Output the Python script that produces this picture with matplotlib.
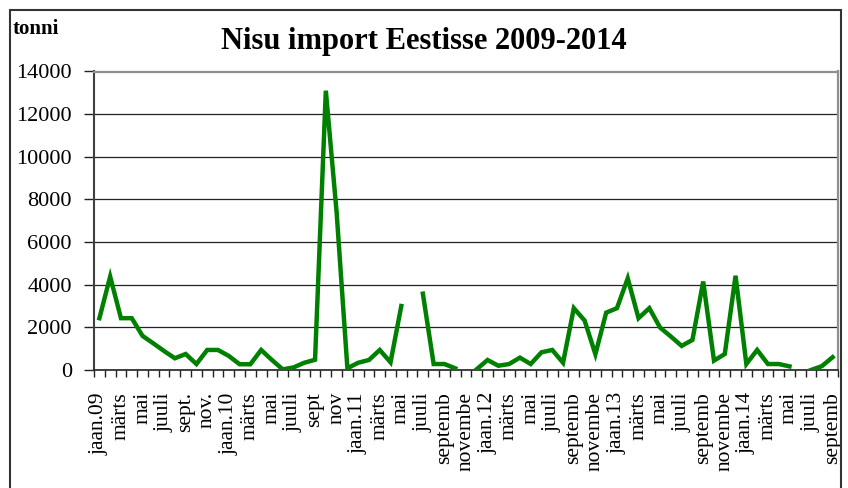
import numpy as np
import matplotlib
matplotlib.use("Agg")
import matplotlib.pyplot as plt
from matplotlib.patches import Rectangle

plt.rcParams["font.family"] = ["Liberation Serif", "DejaVu Serif"]

nan = np.nan
# monthly wheat import, tonnes, Jan 2009 .. Sep 2014 (gaps = no data)
import_t = [2430, 4380, 2430, 2430, 1600, 1250, 890, 550, 750, 280,
            940, 940, 660, 270, 270, 940, 470, 30, 120, 340,
            480, 13100, 7400, 80, 340, 470, 940, 360, 3000, nan,
            3580, 280, 280, 80, nan, 40, 470, 200, 280, 580,
            280, 830, 940, 340, 2900, 2320, 740, 2690, 2900, 4300,
            2430, 2900, 1990, 1570, 1130, 1410, 4150, 440, 750, 4420,
            280, 940, 280, 280, 170, nan, 0, 180, 600]

month_labels = ["jaan.09", "märts", "mai", "juuli", "sept.", "nov.",
                "jaan.10", "märts", "mai", "juuli", "sept", "nov",
                "jaan.11", "märts", "mai", "juuli", "septemb", "novembe",
                "jaan.12", "märts", "mai", "juuli", "septemb", "novembe",
                "jaan.13", "märts", "mai", "juuli", "septemb", "novembe",
                "jaan.14", "märts", "mai", "juuli", "septemb"]

W, H = 848, 488
fig = plt.figure(figsize=(W / 100, H / 100), dpi=100)
ax = fig.add_axes([94 / W, 1 - 370 / H, (838 - 94) / W, (370 - 71.5) / H])

x = np.arange(len(import_t))
ax.plot(x, import_t, color="#008000", lw=3.2, solid_joinstyle="miter", zorder=3)

ax.set_xlim(-0.5, len(import_t) - 0.5)
ax.set_ylim(0, 14000)
ax.set_yticks(np.arange(0, 14001, 2000))
ax.yaxis.grid(True, color="#222222", lw=0.9)
ax.set_axisbelow(True)

ax.set_xticks(np.arange(0, len(import_t), 2))
ax.set_xticklabels(month_labels, rotation=90, fontsize=15.5)
ax.set_xticks(np.arange(-0.5, len(import_t)), minor=True)
ax.tick_params(axis="x", which="major", length=0, pad=16)
ax.tick_params(axis="x", which="minor", length=5, width=1, direction="out", color="#222222")
ax.tick_params(axis="y", labelsize=16, length=7, width=1, pad=9, color="#222222")

for s in ["top", "right"]:
    ax.spines[s].set_color("#909090")
    ax.spines[s].set_linewidth(1.6)
ax.spines["left"].set_color("#404040")
ax.spines["left"].set_linewidth(1.5)
ax.spines["bottom"].set_color("#222222")
ax.spines["bottom"].set_linewidth(1.2)

fig.text(0.5, 1 - 48.5 / H, "Nisu import Eestisse 2009-2014", ha="center",
         va="baseline", fontsize=22, fontweight="bold")
fig.text(13 / W, 1 - 33.5 / H, "tonni", ha="left", va="baseline",
         fontsize=15, fontweight="bold")

fig.patches.append(Rectangle((9.5 / W, -0.01), (841 - 9.5) / W, 1 - 10 / H + 0.01,
                             transform=fig.transFigure, fill=False,
                             edgecolor="#333333", lw=1.5))

fig.savefig("out.png", dpi=100)
